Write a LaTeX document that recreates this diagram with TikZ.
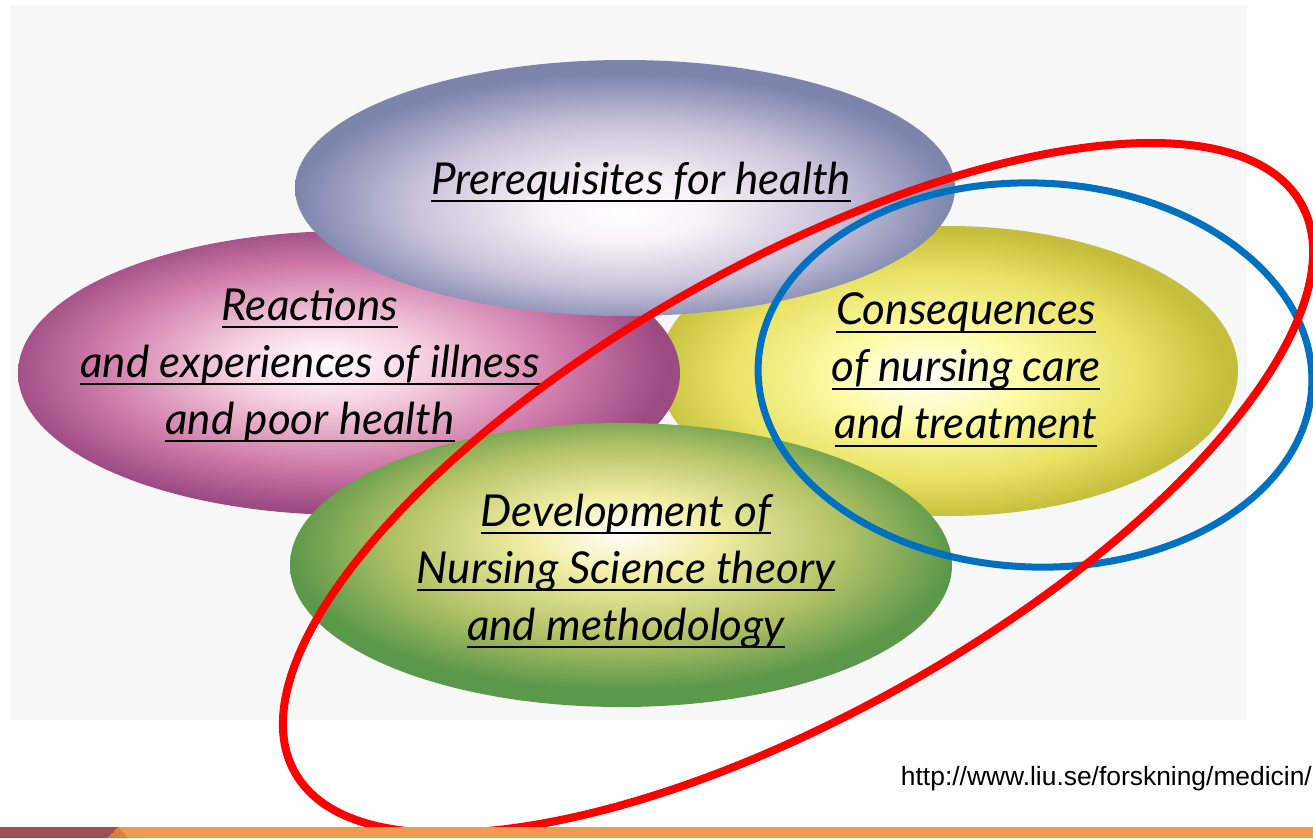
\documentclass[tikz,border=0pt]{standalone}
\usepackage{fontspec}
\setmainfont{Lato}
\newfontfamily\urlfont{Liberation Sans}
\usepackage{xcolor}

\definecolor{lavedge}{HTML}{7C84AC}
\definecolor{lavmid}{HTML}{C9C3DA}
\definecolor{lavlight}{HTML}{F8F3F7}
\definecolor{pinkedge}{HTML}{9C4A82}
\definecolor{pinkmid}{HTML}{CE78A8}
\definecolor{pinklight}{HTML}{F7D3E2}
\definecolor{yelledge}{HTML}{C4BE3C}
\definecolor{yellmid}{HTML}{E8E264}
\definecolor{yelllight}{HTML}{FDFBA8}
\definecolor{greenedge}{HTML}{5C984A}
\definecolor{greenmid}{HTML}{B2C266}
\definecolor{greenlight}{HTML}{F2EEA4}
\definecolor{ringred}{HTML}{FF0000}
\definecolor{ringblue}{HTML}{0070C0}
\definecolor{barorange}{HTML}{EC9D4F}
\definecolor{bardark}{HTML}{9B5257}
\definecolor{bartip}{HTML}{D9803A}

\pgfdeclareradialshading{purpleblob}{\pgfpoint{0bp}{-5bp}}{color(0bp)=(white);
  color(6bp)=(lavlight); color(16bp)=(lavmid); color(25bp)=(lavedge); color(50bp)=(lavedge)}
\pgfdeclareradialshading{pinkblob}{\pgfpoint{-2bp}{2bp}}{color(0bp)=(white);
  color(7bp)=(pinklight); color(18bp)=(pinkmid); color(25bp)=(pinkedge); color(50bp)=(pinkedge)}
\pgfdeclareradialshading{yellowblob}{\pgfpoint{-2bp}{-1bp}}{color(0bp)=(white);
  color(8bp)=(yelllight); color(18bp)=(yellmid); color(25bp)=(yelledge); color(50bp)=(yelledge)}
\pgfdeclareradialshading{greenblob}{\pgfpoint{0bp}{6bp}}{color(0bp)=(white);
  color(7bp)=(greenlight); color(17bp)=(greenmid); color(25bp)=(greenedge); color(50bp)=(greenedge)}

\newcommand{\blob}[5]{\path[shading=#5] (#1,#2) ellipse (#3pt and #4pt)}
\newcommand{\uln}[1]{\leavevmode\setbox0\hbox{#1}\rlap{\rule[-8pt]{\wd0}{2pt}}\box0}

\tikzset{
  theme/.style={align=center, inner sep=0pt, font=\itshape\fontsize{44}{57}\selectfont},
  ring/.style={line width=#1, line cap=round}
}

\begin{document}
\begin{tikzpicture}[x=1pt,y=-1pt]
	\useasboundingbox (0,0) rectangle (1313,838);
	\fill[white] (0,0) rectangle (1313,838);
	\fill[black!3] (10,5) rectangle (1247,720);
	\blob{948}{371}{290}{145}{yellowblob};
	\blob{349}{373}{331}{142}{pinkblob};
	\blob{625}{188}{330}{128}{purpleblob};
	\blob{621}{565}{331}{142}{greenblob};
	\node[theme] (prereq) at (641,182) {\uln{Prerequisites for health}};
	\node[theme] (reactions) at (310,365) {\uln{Reactions}\\ \uln{and experiences of illness}\\ \uln{and poor health}};
	\node[theme] (conseq) at (966,370) {\uln{Consequences}\\ \uln{of nursing care}\\ \uln{and treatment}};
	\node[theme] (develop) at (626,571) {\uln{Development of}\\ \uln{Nursing Science theory}\\ \uln{and methodology}};
	\draw[ringblue, ring=7pt, rotate around={-2:(1035,375)}] (1035,375) ellipse (277pt and 192pt);
	\draw[ringred, ring=8pt, rotate around={29.5:(798,488)}] (798,488) ellipse (578pt and 224pt);
	\node[anchor=base east, inner sep=0pt, font=\urlfont\fontsize{26.4}{30}\selectfont] (source) at (1312,785) {http://www.liu.se/forskning/medicin/};
	\fill[barorange] (0,827) rectangle (1313,838);
	\fill[bardark] (0,827) -- (118,827) -- (108,838) -- (0,838) -- cycle;
	\fill[bartip] (118,827) -- (128,838) -- (108,838) -- cycle;
\end{tikzpicture}
\end{document}
